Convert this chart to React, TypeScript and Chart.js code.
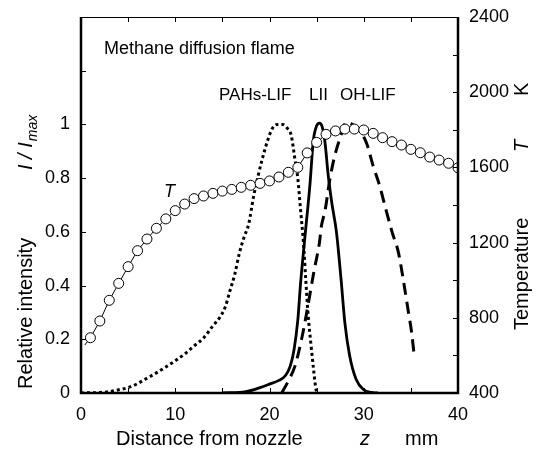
import React, { useEffect, useRef } from "react";
import { Chart, registerables } from "chart.js";
Chart.register(...registerables);

// Temperature profile (K) vs distance z (mm)
const tempZ = [0.4, 1, 2, 3, 4, 5, 6, 7, 8, 9, 10, 11, 12, 13, 14, 15, 16, 17, 18, 19, 20, 21, 22, 23, 24, 25, 26, 27, 28, 29, 30, 31, 32, 33, 34, 35, 36, 37, 38, 39, 40];
const tempK = [655, 694, 783, 893, 983, 1072, 1157, 1219, 1276, 1326, 1370, 1405, 1434, 1448, 1462, 1474, 1483, 1494, 1505, 1515, 1528, 1549, 1574, 1600, 1677, 1733, 1776, 1794, 1804, 1804, 1799, 1781, 1758, 1737, 1719, 1696, 1678, 1655, 1639, 1622, 1598];

// PAHs-LIF relative intensity
const pahZ = [0, 2, 3, 4, 5, 6, 7, 8, 9, 10, 11, 12, 13, 14, 14.7, 15.3, 15.8, 16.3, 16.8, 17.3, 17.8, 18.3, 18.8, 19.3, 19.8, 20.3, 20.8, 21.4, 21.9, 22.3, 22.7, 23.0, 23.3, 23.6, 23.85, 24.1, 24.4, 24.7, 24.9, 25.05];
const pahI = [0, 0.002, 0.005, 0.012, 0.02, 0.035, 0.055, 0.075, 0.097, 0.12, 0.145, 0.175, 0.205, 0.25, 0.28, 0.32, 0.38, 0.44, 0.52, 0.58, 0.63, 0.73, 0.81, 0.88, 0.94, 0.985, 1.0, 1.0, 0.985, 0.96, 0.87, 0.8, 0.68, 0.56, 0.42, 0.29, 0.18, 0.08, 0.02, 0];

// LII relative intensity
const liiZ = [15, 17.5, 19, 20, 21, 21.7, 22.2, 22.6, 23, 23.3, 23.7, 24.3, 24.65, 25, 25.3, 25.6, 25.9, 26.2, 26.6, 27.1, 27.6, 28, 28.5, 29.2, 30, 30.8, 31.5];
const liiI = [0, 0.005, 0.02, 0.033, 0.047, 0.065, 0.1, 0.16, 0.27, 0.41, 0.56, 0.78, 0.94, 0.995, 1.005, 0.99, 0.93, 0.82, 0.71, 0.6, 0.42, 0.26, 0.14, 0.05, 0.012, 0.002, 0];

// OH-LIF relative intensity
const ohZ = [21.3, 22, 22.7, 23.4, 23.9, 24.3, 24.7, 25.1, 25.3, 25.5, 25.9, 26.4, 26.9, 27.45, 28.2, 28.8, 29.5, 30.3, 31, 31.7, 32.3, 33, 33.7, 34.2, 34.7, 35.1, 35.35];
const ohI = [0, 0.045, 0.1, 0.2, 0.29, 0.37, 0.45, 0.52, 0.56, 0.62, 0.68, 0.795, 0.88, 0.945, 1.01, 1.0, 0.98, 0.93, 0.845, 0.77, 0.69, 0.6, 0.52, 0.42, 0.31, 0.22, 0.14];

// Axis settings
const xLabelStep = 10;
const leftLabelMax = 1;
const rightLabelStep = 400;

const FONT = '"Liberation Sans", Arial, Helvetica, sans-serif';

const framePlugin = {
  id: "frame",
  afterDraw(chart: any) {
    const ctx = chart.ctx;
    const { left, right, top, bottom } = chart.chartArea;
    const xs = chart.scales.x;
    const yl = chart.scales.y;
    const yr = chart.scales.y1;
    const tl = 5;
    ctx.save();
    ctx.strokeStyle = "#000";
    ctx.lineWidth = 1;
    ctx.beginPath();
    xs.ticks.forEach((t: any) => {
      const px = Math.round(xs.getPixelForValue(t.value)) + 0.5;
      ctx.moveTo(px, bottom);
      ctx.lineTo(px, bottom - tl);
      ctx.moveTo(px, top);
      ctx.lineTo(px, top + tl);
    });
    yl.ticks.forEach((t: any) => {
      const py = Math.round(yl.getPixelForValue(t.value)) + 0.5;
      ctx.moveTo(left, py);
      ctx.lineTo(left + tl, py);
    });
    yr.ticks.forEach((t: any) => {
      const py = Math.round(yr.getPixelForValue(t.value)) + 0.5;
      ctx.moveTo(right, py);
      ctx.lineTo(right - tl, py);
    });
    ctx.stroke();
    // top border thin
    ctx.beginPath();
    ctx.moveTo(left, top + 0.5);
    ctx.lineTo(right, top + 0.5);
    ctx.stroke();
    // thick left, bottom, right
    ctx.lineWidth = 2.5;
    ctx.beginPath();
    ctx.moveTo(left, top);
    ctx.lineTo(left, bottom);
    ctx.lineTo(right, bottom);
    ctx.lineTo(right, top);
    ctx.stroke();

    // texts
    ctx.fillStyle = "#000";
    ctx.textAlign = "left";
    ctx.textBaseline = "alphabetic";
    // x title
    ctx.font = `20px ${FONT}`;
    ctx.fillText("Distance from nozzle", 116, 445);
    ctx.font = `italic 20px ${FONT}`;
    ctx.fillText("z", 360, 445);
    ctx.font = `20px ${FONT}`;
    ctx.fillText("mm", 405, 445);

    // left title
    ctx.save();
    ctx.translate(32, 389);
    ctx.rotate(-Math.PI / 2);
    ctx.font = `20px ${FONT}`;
    ctx.fillText("Relative intensity", 0, 0);
    ctx.font = `italic 20px ${FONT}`;
    const s1 = "I / I";
    ctx.fillText(s1, 219, 0);
    const w1 = ctx.measureText(s1).width;
    ctx.font = `italic 14px ${FONT}`;
    ctx.fillText("max", 219 + w1 + 1, 5);
    ctx.restore();

    // right title
    ctx.save();
    ctx.translate(528, 330);
    ctx.rotate(-Math.PI / 2);
    ctx.font = `20px ${FONT}`;
    ctx.fillText("Temperature", 0, 0);
    ctx.font = `italic 20px ${FONT}`;
    ctx.fillText("T", 178, 0);
    ctx.font = `20px ${FONT}`;
    ctx.fillText("K", 234, 0);
    ctx.restore();

    // annotations
    ctx.font = `18px ${FONT}`;
    ctx.fillText("Methane diffusion flame", 104, 54);
    ctx.font = `17px ${FONT}`;
    ctx.fillText("PAHs-LIF", 219, 100);
    ctx.fillText("LII", 309, 100);
    ctx.fillText("OH-LIF", 340, 100);
    ctx.font = `italic 18px ${FONT}`;
    ctx.fillText("T", 164, 197);
    ctx.restore();
  },
};

export default function App() {
  const ref = useRef<HTMLCanvasElement | null>(null);
  useEffect(() => {
    if (!ref.current) return;
    const tickFont = { family: FONT, size: 18 };
    const chart = new Chart(ref.current, {
      type: "line",
      data: {
        datasets: [
          {
            label: "T",
            yAxisID: "y1",
            data: tempZ.map((z, i) => ({ x: z, y: tempK[i] })),
            borderColor: "#000",
            borderWidth: 1,
            pointRadius: tempZ.map((z) => (z < 1 ? 0 : 5)),
            pointBackgroundColor: "#fff",
            pointBorderColor: "#000",
            pointBorderWidth: 1,
            tension: 0,
            order: 0,
          },
          {
            label: "LII",
            yAxisID: "y",
            data: liiZ.map((z, i) => ({ x: z, y: liiI[i] })),
            borderColor: "#000",
            borderWidth: 2.8,
            pointRadius: 0,
            cubicInterpolationMode: "monotone",
            order: 1,
          },
          {
            label: "OH-LIF",
            yAxisID: "y",
            data: ohZ.map((z, i) => ({ x: z, y: ohI[i] })),
            borderColor: "#000",
            borderWidth: 3,
            borderDash: [12, 7],
            pointRadius: 0,
            cubicInterpolationMode: "monotone",
            order: 2,
          },
          {
            label: "PAHs-LIF",
            yAxisID: "y",
            data: pahZ.map((z, i) => ({ x: z, y: pahI[i] })),
            borderColor: "#000",
            borderWidth: 3,
            borderDash: [3, 3],
            pointRadius: 0,
            cubicInterpolationMode: "monotone",
            order: 3,
          },
        ],
      } as any,
      options: {
        animation: false,
        responsive: false,
        devicePixelRatio: 1,
        layout: { padding: { top: 17, left: 0, right: 0, bottom: 0 } },
        plugins: { legend: { display: false }, tooltip: { enabled: false } },
        scales: {
          x: {
            type: "linear",
            position: "bottom",
            min: 0,
            max: 40,
            grid: { display: false },
            border: { display: false },
            ticks: {
              stepSize: 5,
              autoSkip: false,
              maxRotation: 0,
              padding: 3,
              color: "#000",
              font: tickFont,
              callback: (v: any) => (Math.abs(v % xLabelStep) < 1e-6 ? String(v) : ""),
            },
            afterFit: (s: any) => {
              s.height = 65;
            },
          },
          y: {
            type: "linear",
            position: "left",
            min: 0,
            max: 1.4,
            grid: { display: false },
            border: { display: false },
            ticks: {
              stepSize: 0.2,
              autoSkip: false,
              padding: 3,
              color: "#000",
              font: tickFont,
              callback: (v: any) => (v <= leftLabelMax + 1e-6 ? String(Math.round(v * 10) / 10) : ""),
            },
            afterFit: (s: any) => {
              s.width = 81;
            },
          },
          y1: {
            type: "linear",
            position: "right",
            min: 400,
            max: 2400,
            grid: { display: false },
            border: { display: false },
            ticks: {
              stepSize: 200,
              autoSkip: false,
              padding: 3,
              color: "#000",
              font: tickFont,
              callback: (v: any) => (Math.abs(v % rightLabelStep) < 1e-6 ? String(v) : ""),
            },
            afterFit: (s: any) => {
              s.width = 80;
            },
          },
        },
      } as any,
      plugins: [framePlugin],
    });
    return () => chart.destroy();
  }, []);
  return (
    <div style={{ position: "fixed", left: 0, top: 0, width: 538, height: 458, background: "#fff" }}>
      <canvas ref={ref} width={538} height={458} style={{ width: 538, height: 458, display: "block" }} />
    </div>
  );
}
